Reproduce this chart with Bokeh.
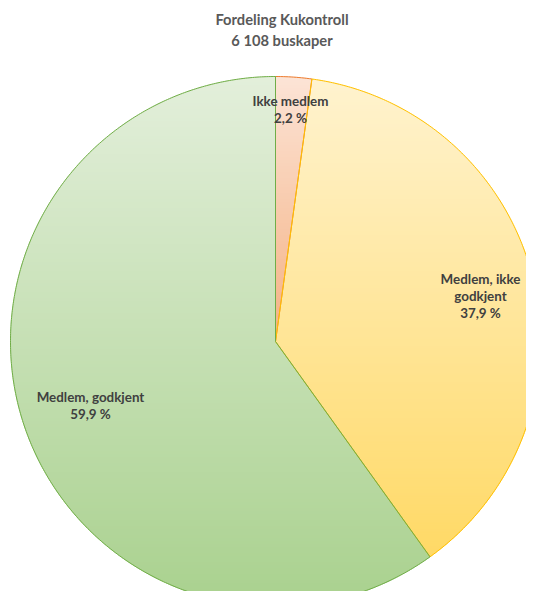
import numpy as np
from bokeh.plotting import figure
from bokeh.models import Range1d, ColumnDataSource
from bokeh.core.properties import value
from bokeh.embed import file_html
from bokeh.resources import INLINE

# ---- data ----
title_lines = ["Fordeling Kukontroll", "6 108 buskaper"]
categories = ["Ikke medlem", "Medlem, ikke godkjent", "Medlem, godkjent"]
label_lines = [["Ikke medlem"], ["Medlem, ikke", "godkjent"], ["Medlem, godkjent"]]
counts = [134, 2315, 3659]

# ---- style ----
W, H = 526, 591
CX, CY, R = 275.0, 341.0, 265.0
top_colors = ["#fce4d6", "#fff3cf", "#e3efdb"]
bottom_colors = ["#f4b183", "#ffd966", "#a9d18e"]
edge_colors = ["#ed7d31", "#ffc000", "#70ad47"]
label_pos = [(290, 100), (480, 278), (90, 396)]
LINE_H = 17

p = figure(width=W, height=H, output_backend="svg", toolbar_location=None,
           x_range=Range1d(0, W), y_range=Range1d(H, 0),
           x_axis_type=None, y_axis_type=None, min_border=0)
p.outline_line_color = None
p.grid.visible = False
p.background_fill_color = "white"
p.border_fill_color = "white"

total = float(sum(counts))
fracs = [c / total for c in counts]
starts = np.concatenate([[0], np.cumsum(fracs)[:-1]]) * 2 * np.pi
ends = np.cumsum(fracs) * 2 * np.pi


def wedge_poly(a0, a1):
    n = max(4, int(np.degrees(a1 - a0) * 2))
    t = np.linspace(a0, a1, n)
    xs = [CX] + list(CX + R * np.sin(t))
    ys = [CY] + list(CY - R * np.cos(t))
    return list(zip(xs, ys))


def clip_half(pts, keep, c):
    out = []
    n = len(pts)
    for i in range(n):
        cur, prev = pts[i], pts[i - 1]
        cin, pin = keep(cur), keep(prev)
        if cin != pin:
            t = (c - prev[1]) / (cur[1] - prev[1])
            out.append((prev[0] + t * (cur[0] - prev[0]), c))
        if cin:
            out.append(cur)
    return out


def hex2rgb(h):
    h = h.lstrip("#")
    return np.array([int(h[i:i + 2], 16) for i in (0, 2, 4)], dtype=float)


def mix(c0, c1, t):
    c = hex2rgb(c0) * (1 - t) + hex2rgb(c1) * t
    return "#%02x%02x%02x" % tuple(int(round(v)) for v in c)


band_xs, band_ys, band_cols = [], [], []
out_xs, out_ys = [], []
for i in range(len(counts)):
    poly = wedge_poly(starts[i], ends[i])
    ys_all = [pt[1] for pt in poly]
    y0, y1 = min(ys_all), max(ys_all)
    step = 3.0
    yb = y0
    while yb < y1:
        yt = min(yb + step, y1)
        cp = clip_half(poly, lambda q, c=yb: q[1] >= c, yb)
        if cp:
            cp = clip_half(cp, lambda q, c=yt: q[1] <= c, yt)
        if len(cp) >= 3:
            t = ((yb + yt) / 2 - y0) / (y1 - y0)
            band_xs.append([q[0] for q in cp])
            band_ys.append([q[1] for q in cp])
            band_cols.append(mix(top_colors[i], bottom_colors[i], t))
        yb = yt
    out_xs.append([q[0] for q in poly])
    out_ys.append([q[1] for q in poly])

p.patches("xs", "ys", source=ColumnDataSource(dict(xs=band_xs, ys=band_ys, c=band_cols)),
          fill_color="c", line_color="c", line_width=1)

for i in range(len(counts)):
    p.patch(out_xs[i], out_ys[i], fill_color=None, line_color=edge_colors[i],
            line_width=1, line_join="round")

# labels
lx, ly, lt = [], [], []
for i in range(len(counts)):
    lines = label_lines[i] + [("%.1f" % (100 * fracs[i])).replace(".", ",") + " %"]
    for k, s in enumerate(lines):
        lx.append(label_pos[i][0])
        ly.append(label_pos[i][1] + k * LINE_H)
        lt.append(s)
p.text(x=lx, y=ly, text=lt, text_align="center", text_baseline="middle",
       text_font=value("Lato"), text_font_style="bold", text_font_size="13.4px",
       text_color="#404040")

p.text(x=[281.5, 281.5], y=[18, 39], text=title_lines, text_align="center",
       text_baseline="middle", text_font=value("Lato"), text_font_style="bold",
       text_font_size="14.7px", text_color="#595959")

open("out.html", "w").write(file_html(p, INLINE))
